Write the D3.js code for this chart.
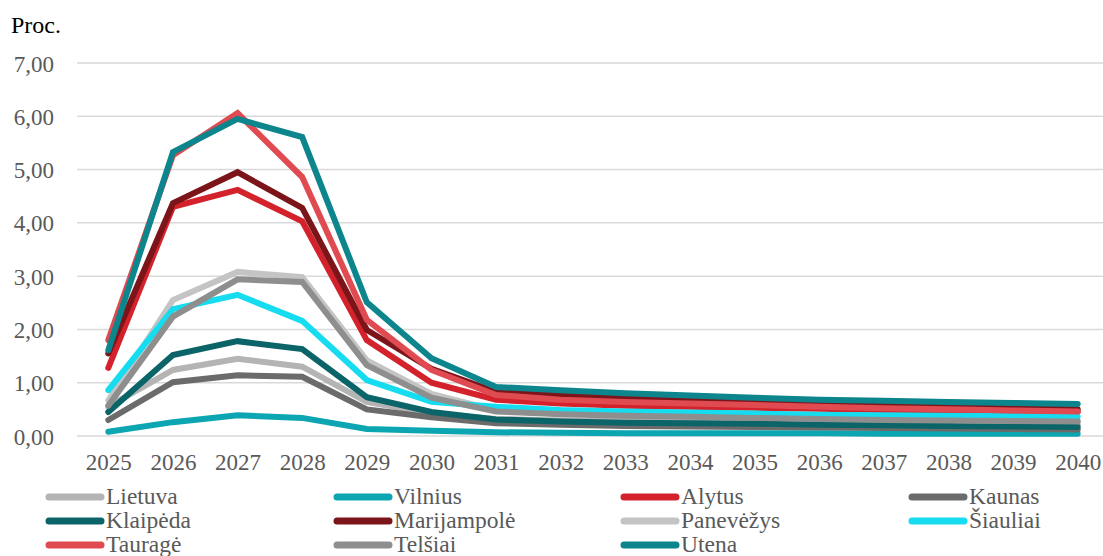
<!DOCTYPE html>
<html>
<head>
<meta charset="utf-8">
<script src="https://cdn.jsdelivr.net/npm/d3@7"></script>
<style>
  html, body { margin: 0; padding: 0; background: #fff; }
  svg { display: block; }
  svg text { font-family: "Liberation Serif", "DejaVu Serif", serif !important; }
</style>
</head>
<body>
<svg id="chart" width="1103" height="556"></svg>
<script>
// Years on the horizontal axis
const years = ["2025","2026","2027","2028","2029","2030","2031","2032","2033","2034","2035","2036","2037","2038","2039","2040"];

// Y axis tick values
const yTicks = [0, 1, 2, 3, 4, 5, 6, 7];

// Region names and their series (percent)
const regions = ["Lietuva","Vilnius","Alytus","Kaunas","Klaipėda","Marijampolė","Panevėžys","Šiauliai","Tauragė","Telšiai","Utena"];

const lietuva     = [0.55, 1.24, 1.45, 1.30, 0.64, 0.42, 0.32, 0.29, 0.28, 0.27, 0.26, 0.25, 0.24, 0.23, 0.22, 0.21];
const vilnius     = [0.08, 0.26, 0.39, 0.34, 0.13, 0.10, 0.07, 0.06, 0.05, 0.05, 0.05, 0.05, 0.04, 0.04, 0.04, 0.04];
const alytus      = [1.28, 4.30, 4.62, 4.03, 1.80, 1.00, 0.68, 0.61, 0.57, 0.55, 0.53, 0.51, 0.49, 0.47, 0.46, 0.45];
const kaunas      = [0.30, 1.01, 1.14, 1.11, 0.50, 0.35, 0.24, 0.21, 0.19, 0.18, 0.17, 0.16, 0.15, 0.14, 0.13, 0.12];
const klaipeda    = [0.45, 1.52, 1.78, 1.63, 0.73, 0.45, 0.31, 0.27, 0.25, 0.24, 0.23, 0.21, 0.20, 0.19, 0.18, 0.17];
const marijampole = [1.55, 4.37, 4.95, 4.28, 1.99, 1.26, 0.83, 0.77, 0.72, 0.68, 0.64, 0.60, 0.57, 0.55, 0.52, 0.50];
const panevezys   = [0.67, 2.55, 3.08, 2.98, 1.42, 0.79, 0.48, 0.42, 0.40, 0.38, 0.36, 0.34, 0.32, 0.30, 0.29, 0.28];
const siauliai    = [0.86, 2.38, 2.65, 2.16, 1.05, 0.64, 0.55, 0.49, 0.46, 0.44, 0.42, 0.40, 0.39, 0.38, 0.37, 0.36];
const taurage     = [1.80, 5.27, 6.06, 4.86, 2.18, 1.24, 0.77, 0.68, 0.64, 0.61, 0.58, 0.55, 0.52, 0.50, 0.48, 0.46];
const telsiai     = [0.57, 2.24, 2.94, 2.89, 1.33, 0.72, 0.46, 0.41, 0.38, 0.36, 0.34, 0.32, 0.30, 0.29, 0.28, 0.27];
const utena       = [1.61, 5.33, 5.95, 5.61, 2.51, 1.46, 0.92, 0.86, 0.80, 0.76, 0.72, 0.68, 0.66, 0.64, 0.62, 0.60];

const colors = ["#b4b4b4","#0ba6b2","#d3222b","#6b6b6b","#0a6468","#7c151a","#c4c4c4","#16dcef","#e04a51","#8e8e8e","#0d858c"];

const seriesValues = [lietuva, vilnius, alytus, kaunas, klaipeda, marijampole, panevezys, siauliai, taurage, telsiai, utena];
const series = regions.map((name, i) => ({
  name,
  color: colors[i],
  values: seriesValues[i].map((v, j) => ({ year: years[j], value: v }))
}));

const FONT = "'Liberation Serif', 'DejaVu Serif', serif";
const svg = d3.select("#chart");

const plotLeft = 76, plotRight = 1110, plotTop = 63, plotBottom = 436;

const x = d3.scalePoint().domain(years).range([plotLeft, plotRight]).padding(0.5);
const y = d3.scaleLinear().domain([0, 7]).range([plotBottom, plotTop]);

const fmt = v => d3.format(".2f")(v).replace(".", ",");

// Horizontal gridlines
svg.append("g")
  .selectAll("line")
  .data(yTicks)
  .join("line")
  .attr("x1", plotLeft + 1)
  .attr("x2", plotRight)
  .attr("y1", d => y(d))
  .attr("y2", d => y(d))
  .attr("stroke", "#d9d9d9")
  .attr("stroke-width", 1.5);

// Y axis labels
const yAxis = svg.append("g")
  .attr("transform", `translate(${plotLeft - 22},0)`)
  .call(d3.axisLeft(y).tickValues(yTicks).tickFormat(fmt).tickSize(0).tickPadding(0));
yAxis.attr("font-family", FONT);
yAxis.select(".domain").remove();
yAxis.selectAll("text")
  .attr("fill", "#595959")
  .attr("font-family", FONT)
  .style("font-size", "23px")
  .attr("dy", "0.35em");

// X axis labels
const xAxis = svg.append("g")
  .attr("transform", `translate(0,${plotBottom})`)
  .call(d3.axisBottom(x).tickSize(0).tickPadding(18));
xAxis.attr("font-family", FONT);
xAxis.select(".domain").remove();
xAxis.selectAll("text")
  .attr("fill", "#595959")
  .attr("font-family", FONT)
  .style("font-size", "23px");

// Unit label
svg.append("text")
  .attr("x", 11)
  .attr("y", 33)
  .attr("fill", "#000")
  .attr("font-family", FONT)
  .style("font-size", "24px")
  .text("Proc.");

// Lines
const line = d3.line()
  .x(d => x(d.year))
  .y(d => y(d.value));

svg.append("g")
  .selectAll("path")
  .data(series)
  .join("path")
  .attr("d", d => line(d.values))
  .attr("fill", "none")
  .attr("stroke", d => d.color)
  .attr("stroke-width", 6)
  .attr("stroke-linejoin", "miter")
  .attr("stroke-linecap", "round");

// Legend: 4 columns, 3 rows
const legendCols = [47, 335, 622, 910];
const legendRows = [497, 521, 545];
const legend = svg.append("g")
  .selectAll("g")
  .data(series)
  .join("g")
  .attr("transform", (d, i) => `translate(${legendCols[i % 4]},${legendRows[Math.floor(i / 4)]})`);

legend.append("line")
  .attr("x1", 2)
  .attr("x2", 54)
  .attr("y1", 0)
  .attr("y2", 0)
  .attr("stroke", d => d.color)
  .attr("stroke-width", 7)
  .attr("stroke-linecap", "round");

legend.append("text")
  .attr("x", 59)
  .attr("y", 7)
  .attr("fill", "#595959")
  .attr("font-family", FONT)
  .style("font-size", "23.5px")
  .text(d => d.name);
</script>
</body>
</html>
